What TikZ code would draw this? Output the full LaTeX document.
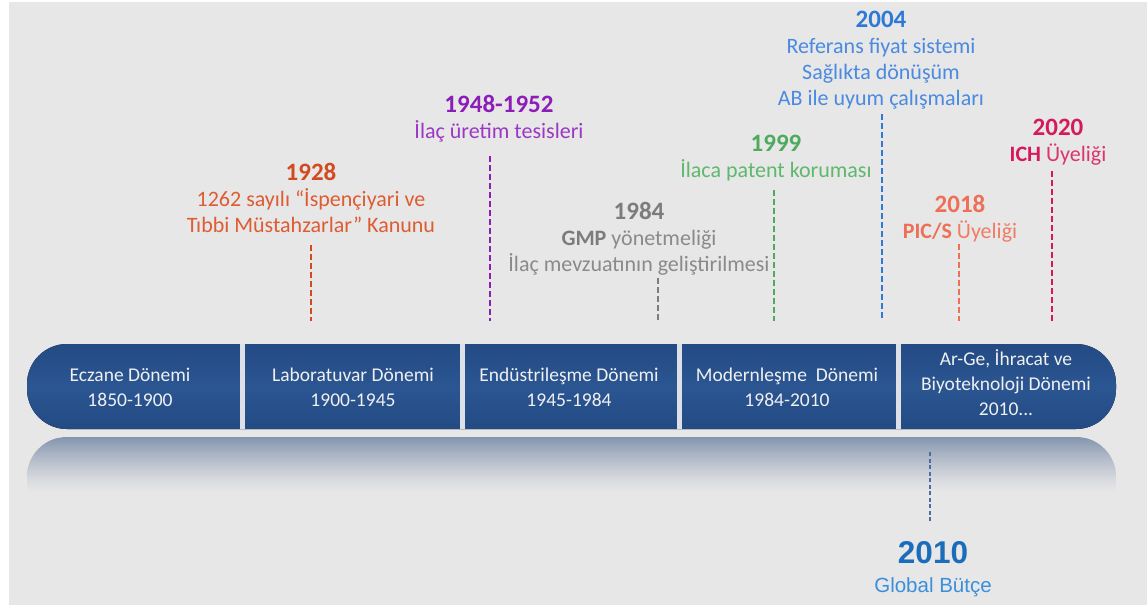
\documentclass[tikz,border=0pt]{standalone}
\usepackage{fontspec}
\setmainfont{Carlito}
\newfontfamily\arialfont{Liberation Sans}
\usetikzlibrary{positioning}

\definecolor{bg}{HTML}{E7E7E7}
\definecolor{barblue}{HTML}{2B5692}
\definecolor{bardark}{HTML}{234A83}
\definecolor{gapgray}{HTML}{DDE1E7}
\definecolor{refl}{HTML}{8495AF}
\definecolor{cA}{HTML}{D24A20}\definecolor{cAb}{HTML}{DE5C32}
\definecolor{cB}{HTML}{8C1DB8}\definecolor{cBb}{HTML}{9B38C4}
\definecolor{cC}{HTML}{7C7C7C}\definecolor{cCb}{HTML}{8A8A8A}
\definecolor{cD}{HTML}{4FAA60}\definecolor{cDb}{HTML}{5EB86D}
\definecolor{cE}{HTML}{2F79D6}\definecolor{cEb}{HTML}{4A8AE0}
\definecolor{cF}{HTML}{EE6F55}\definecolor{cFb}{HTML}{F07C63}
\definecolor{cG}{HTML}{D6195C}\definecolor{cGb}{HTML}{DB356F}
\definecolor{cH}{HTML}{1B6DBB}\definecolor{cHb}{HTML}{3A8FDD}
\definecolor{cHl}{HTML}{4E6C9F}

\begin{document}
\begin{tikzpicture}[x=1pt,y=-1pt,
    event/.style={align=center,inner sep=0pt,anchor=north,font=\fontsize{22}{26}\selectfont},
    period/.style={align=center,inner sep=0pt,text=white!94!black,font=\fontsize{19.5}{25}\selectfont},
    dashline/.style={line width=2pt,dash pattern=on 6pt off 3pt}]
  \useasboundingbox (0,0) rectangle (1147,605);
  \fill[white] (0,0) rectangle (1147,605);
  \fill[bg] (9,2) rectangle (1147,605);

  % reflection, faded in strips
  \begin{scope}
    \clip (27,500) {[rounded corners=40pt] -- (27,437) -- (1116,437)} -- (1116,500) -- cycle;
    \foreach \i in {0,...,56} {
      \pgfmathsetmacro\p{100*(1-\i/56)^1.3}
      \fill[refl!\p!bg] (27,437+\i) rectangle (1116,438.5+\i);
    }
  \end{scope}
  % bar
  \fill[top color=bardark,bottom color=bardark,middle color=barblue,rounded corners=40pt]
    (27,344) rectangle (1116,429);
  \foreach \x in {242,462,679.5,898}
    \fill[gapgray] (\x-2.5,344) rectangle (\x+2.5,429);

  \coordinate (base) at (0,321);
  \coordinate (rbase) at (0,450);

  % periods
  \node[period] (seg1) at (130,387) {Eczane Dönemi\\1850-1900};
  \node[period] (seg2) at (353,387) {Laboratuvar Dönemi\\1900-1945};
  \node[period] (seg3) at (569,387) {Endüstrileşme Dönemi\\1945-1984};
  \node[period] (seg4) at (787,387) {Modernleşme~~Dönemi\\1984-2010};
  \node[period] (seg5) at (1006,383) {Ar-Ge, İhracat ve\\Biyoteknoloji Dönemi\\2010...};

  % events
  \node[event,text=cAb] (e1928) at (311,163)
    {{\color{cA}\fontsize{25}{26}\selectfont\bfseries 1928}\\1262 sayılı~“İspençiyari ve\\Tıbbi Müstahzarlar\char34{} Kanunu};
  \node[event,text=cBb] (e1948) at (499,95)
    {{\color{cB}\fontsize{25}{26}\selectfont\bfseries 1948-1952}\\İlaç üretim tesisleri};
  \node[event,text=cCb] (e1984) at (639,202)
    {{\color{cC}\fontsize{25}{26}\selectfont\bfseries 1984}\\{\color{cC}\bfseries GMP} yönetmeliği\\İlaç mevzuatının geliştirilmesi};
  \node[event,text=cDb] (e1999) at (776,135)
    {{\color{cD}\fontsize{25}{26}\selectfont\bfseries 1999}\\İlaca patent koruması};
  \node[event,text=cEb] (e2004) at (881,11)
    {{\color{cE}\fontsize{25}{26}\selectfont\bfseries 2004}\\Referans fiyat sistemi\\Sağlıkta dönüşüm\\AB ile uyum çalışmaları};
  \node[event,text=cFb] (e2018) at (960,195)
    {{\color{cF}\fontsize{25}{26}\selectfont\bfseries 2018}\\{\color{cF}\bfseries PIC/S} Üyeliği};
  \node[event,text=cGb] (e2020) at (1058,119)
    {{\color{cG}\fontsize{25}{26}\selectfont\bfseries 2020}\\{\color{cG}\bfseries ICH} Üyeliği};
  \node[event,text=cHb,font=\arialfont\fontsize{20.5}{29}\selectfont] (e2010) at (933,541)
    {{\color{cH}\fontsize{31.5}{32}\selectfont\bfseries 2010}\\Global Bütçe};

  \draw[dashline,cA] ([yshift=-12pt]e1928.south) -- (e1928.south |- base);
  \draw[dashline,cB] ([xshift=-9pt,yshift=-14pt]e1948.south) -- ([xshift=-9pt]e1948.south |- base);
  \draw[dashline,cC] ([xshift=19pt,yshift=-3pt]e1984.south) -- ([xshift=19pt]e1984.south |- base);
  \draw[dashline,cD] ([xshift=-2pt,yshift=-9pt]e1999.south) -- ([xshift=-2pt]e1999.south |- base);
  \draw[dashline,cE] ([xshift=1pt,yshift=-5pt]e2004.south) -- ([xshift=1pt]e2004.south |- base);
  \draw[dashline,cF] ([xshift=-1pt,yshift=-2pt]e2018.south) -- ([xshift=-1pt]e2018.south |- base);
  \draw[dashline,cG] ([xshift=-6pt,yshift=-5pt]e2020.south) -- ([xshift=-6pt]e2020.south |- base);
  \draw[cHl,line width=1.5pt,dash pattern=on 4pt off 2.5pt] ([xshift=-3pt,yshift=20pt]e2010.north) -- ([xshift=-3pt]e2010.north |- rbase);
\end{tikzpicture}
\end{document}
